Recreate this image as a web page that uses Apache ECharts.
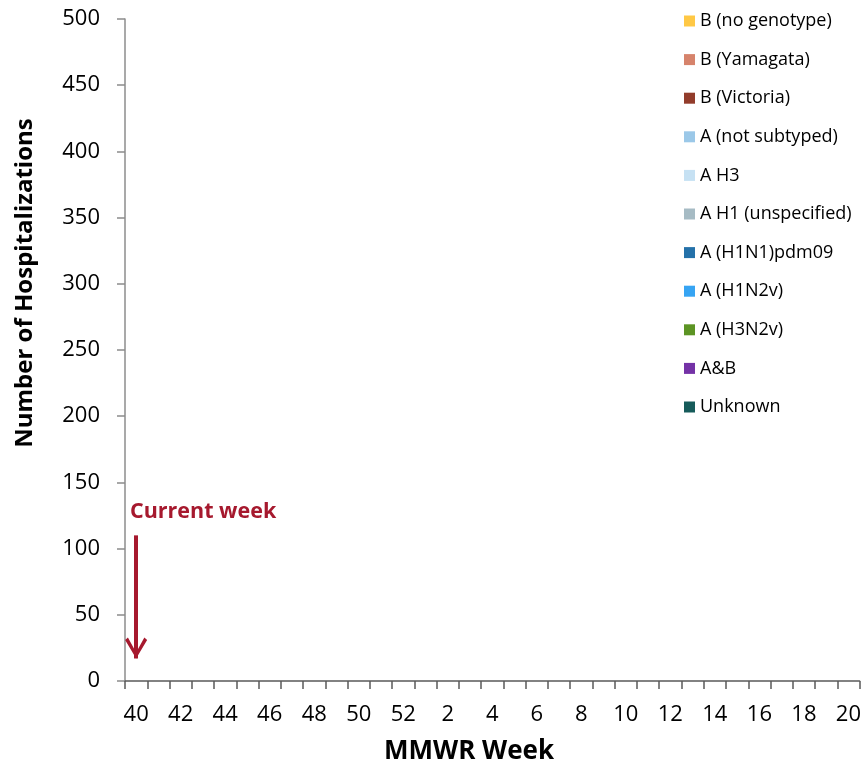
<!DOCTYPE html>
<html>
<head>
<meta charset="utf-8">
<script src="https://cdn.jsdelivr.net/npm/echarts@6/dist/echarts.min.js"></script>
<style>
html,body{margin:0;padding:0;background:#fff;}
#chart{width:864px;height:765px;}
</style>
</head>
<body>
<div id="chart"></div>
<script>
// Categories: MMWR weeks
const weeks = ['40','41','42','43','44','45','46','47','48','49','50','51','52',
  '1','2','3','4','5','6','7','8','9','10','11','12','13','14','15','16','17','18','19','20'];
// Series values (no hospitalizations reported yet)
const bNoGenotype   = [0,0,0,0,0,0,0,0,0,0,0,0,0,0,0,0,0,0,0,0,0,0,0,0,0,0,0,0,0,0,0,0,0];
const bYamagata     = [0,0,0,0,0,0,0,0,0,0,0,0,0,0,0,0,0,0,0,0,0,0,0,0,0,0,0,0,0,0,0,0,0];
const bVictoria     = [0,0,0,0,0,0,0,0,0,0,0,0,0,0,0,0,0,0,0,0,0,0,0,0,0,0,0,0,0,0,0,0,0];
const aNotSubtyped  = [0,0,0,0,0,0,0,0,0,0,0,0,0,0,0,0,0,0,0,0,0,0,0,0,0,0,0,0,0,0,0,0,0];
const aH3           = [0,0,0,0,0,0,0,0,0,0,0,0,0,0,0,0,0,0,0,0,0,0,0,0,0,0,0,0,0,0,0,0,0];
const aH1Unspec     = [0,0,0,0,0,0,0,0,0,0,0,0,0,0,0,0,0,0,0,0,0,0,0,0,0,0,0,0,0,0,0,0,0];
const aH1N1pdm09    = [0,0,0,0,0,0,0,0,0,0,0,0,0,0,0,0,0,0,0,0,0,0,0,0,0,0,0,0,0,0,0,0,0];
const aH1N2v        = [0,0,0,0,0,0,0,0,0,0,0,0,0,0,0,0,0,0,0,0,0,0,0,0,0,0,0,0,0,0,0,0,0];
const aH3N2v        = [0,0,0,0,0,0,0,0,0,0,0,0,0,0,0,0,0,0,0,0,0,0,0,0,0,0,0,0,0,0,0,0,0];
const aAndB         = [0,0,0,0,0,0,0,0,0,0,0,0,0,0,0,0,0,0,0,0,0,0,0,0,0,0,0,0,0,0,0,0,0];
const unknown       = [0,0,0,0,0,0,0,0,0,0,0,0,0,0,0,0,0,0,0,0,0,0,0,0,0,0,0,0,0,0,0,0,0];
// Series names (legend order, top to bottom)
const seriesNames = ['B (no genotype)','B (Yamagata)','B (Victoria)','A (not subtyped)','A H3',
  'A H1 (unspecified)','A (H1N1)pdm09','A (H1N2v)','A (H3N2v)','A&B','Unknown'];
const seriesValues = [bNoGenotype,bYamagata,bVictoria,aNotSubtyped,aH3,aH1Unspec,aH1N1pdm09,aH1N2v,aH3N2v,aAndB,unknown];
const seriesColors = ['#FFC845','#D6836B','#923C2B','#9BC8E8','#C6E1F3','#A6BBC4','#2471A9','#36A4F3','#5C9424','#7432A6','#165B5A'];
// Y ticks
const yMin = 0, yMax = 500, yStep = 50;
// Current-week annotation (values on the y scale)
const currentWeek = '40';
const arrowTop = 110, arrowTip = 17, arrowHeadCenter = 25;

const FONT = 'Open Sans';
const RED = '#A6192E';

const chart = echarts.init(document.getElementById('chart'), null, {renderer:'canvas'});

const series = seriesNames.map((n,i)=>({
  name: n,
  type: 'bar',
  stack: 'total',
  data: seriesValues[i],
  itemStyle: {color: seriesColors[i]},
  barCategoryGap: '20%',
  animation: false
}));
// annotation on the last series
series[series.length-1].markLine = {
  silent: true, animation: false,
  symbol: ['none','none'],
  label: {show:false},
  lineStyle: {color: RED, width: 4, type: 'solid'},
  data: [[{coord:[currentWeek, arrowTop]},{coord:[currentWeek, arrowTip]}]]
};
series[series.length-1].markPoint = {
  silent: true, animation: false,
  label: {show:false},
  data: [{
    coord: [currentWeek, arrowHeadCenter],
    symbol: 'path://M0,2.5 L2.8,0 L11,15 L19.2,0 L22,2.5 L11,21 Z',
    symbolSize: [22, 21],
    itemStyle: {color: RED}
  }]
};

chart.setOption({
  animation: false,
  backgroundColor: '#fff',
  grid: {left: 125, right: 4, top: 19, bottom: 84, containLabel: false},
  legend: {
    data: seriesNames,
    orient: 'vertical',
    left: 684, top: 11,
    padding: 0,
    itemWidth: 11, itemHeight: 11,
    itemGap: 18.6,
    icon: 'rect',
    selectedMode: false,
    textStyle: {fontFamily: FONT, fontSize: 18, color: '#000', lineHeight: 20, padding:[0,0,0,0]}
  },
  xAxis: {
    type: 'category',
    data: weeks,
    boundaryGap: true,
    axisLine: {show: true, lineStyle: {color: '#595959', width: 1.5}},
    axisTick: {show: true, interval: 0, length: 8, inside: false, lineStyle: {color: '#595959', width: 1.5}},
    axisLabel: {interval: 1, margin: 23, fontFamily: FONT, fontSize: 22, color: '#000'},
    splitLine: {show: false}
  },
  yAxis: {
    type: 'value',
    min: yMin, max: yMax, interval: yStep,
    axisLine: {show: true, lineStyle: {color: '#8c8c8c', width: 1.5}},
    axisTick: {show: true, length: 8, inside: false, lineStyle: {color: '#8c8c8c', width: 1.5}},
    axisLabel: {margin: 25, fontFamily: FONT, fontSize: 22, color: '#000'},
    splitLine: {show: false}
  },
  graphic: [
    {type:'text', x: 25, y: 283, rotation: Math.PI/2,
     style:{text:'Number of Hospitalizations', fontFamily: FONT, fontWeight:'bold', fontSize: 24, fill:'#000', align:'center', verticalAlign:'middle'}},
    {type:'text', x: 469, y: 752,
     style:{text:'MMWR Week', fontFamily: FONT, fontWeight:'bold', fontSize: 26, fill:'#000', align:'center', verticalAlign:'middle'}},
    {type:'text', x: 130, y: 512,
     style:{text:'Current week', fontFamily: FONT, fontWeight:'bold', fontSize: 21.5, fill: RED, align:'left', verticalAlign:'middle'}}
  ],
  series: series
});
</script>
</body>
</html>
